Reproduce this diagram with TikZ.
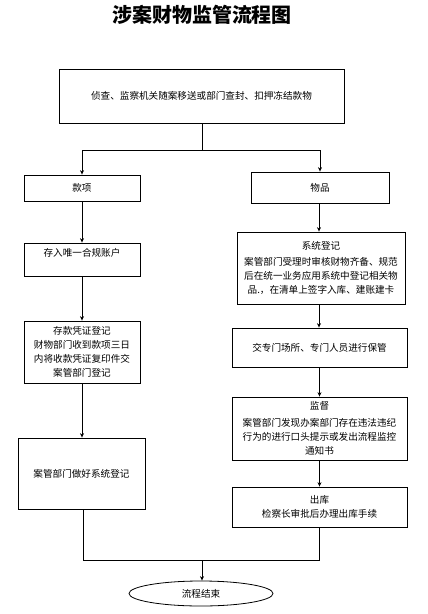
\documentclass[tikz,border=0pt]{standalone}
\usepackage{fontspec}
\setmainfont{Noto Sans CJK SC}
\usetikzlibrary{arrows.meta,shapes.geometric}
\begin{document}
\begin{tikzpicture}[x=1pt,y=-1pt,
  every node/.style={font=\fontsize{9.6}{14}\selectfont, inner sep=0pt},
  box/.style={draw, line width=0.8pt, align=center},
  conn/.style={line width=0.8pt},
  arr/.style={conn, -{Stealth[length=4.5pt,width=4pt]}}]
\useasboundingbox (0,0) rectangle (428,614);
\fill[white] (0,0) rectangle (428,614);

\node (title) at (202,15) {\fontsize{20}{24}\selectfont\bfseries 涉案财物监管流程图};

\node[box, minimum width=285pt, minimum height=54pt] (top) at (201.5,96) {侦查、监察机关随案移送或部门查封、扣押冻结款物};

% left branch
\node[box, minimum width=116pt, minimum height=26pt] (kx) at (82,188) {款项};
\node[box, minimum width=116pt, minimum height=33pt, text depth=15pt] (cr) at (82,259.5) {存入唯一合规账户};
\node[box, minimum width=116pt, minimum height=62pt] (pz) at (82,352) {存款凭证登记\\财物部门收到款项三日\\内将收款凭证复印件交\\案管部门登记};
\node[box, minimum width=127pt, minimum height=71pt] (an) at (81.5,473.5) {案管部门做好系统登记};

% right branch
\node[box, minimum width=138pt, minimum height=31pt] (wp) at (320,187.5) {物品};
\node[box, minimum width=168pt, minimum height=72pt] (xt) at (321,268) {系统登记\\[2pt]案管部门受理时审核财物齐备、规范\\后在统一业务应用系统中登记相关物\\品.，在清单上签字入库、建账建卡};
\node[box, minimum width=175pt, minimum height=39pt] (bg) at (319.5,347.5) {交专门场所、专门人员进行保管};
\node[box, minimum width=175pt, minimum height=63pt] (jd) at (319.5,428.5) {监督\\[3pt]案管部门发现办案部门存在违法违纪\\行为的进行口头提示或发出流程监控\\通知书};
\node[box, minimum width=175pt, minimum height=40pt] (ck) at (319.5,507) {出库\\检察长审批后办理出库手续};

\node[draw, line width=0.8pt, ellipse, minimum width=144pt, minimum height=25pt] (end) at (201,593.5) {流程结束};

\coordinate (j1) at (202,150);
\coordinate (j2) at (202,560);

\draw[conn] (top.south -| j1) -- (j1);
\draw[arr] (j1) -| (kx.north);
\draw[arr] (j1) -| (wp.north);
\draw[arr] (kx) -- (cr);
\draw[arr] (cr) -- (pz);
\draw[arr] (pz) -- (an.north -| pz.south);
\draw[arr] (wp.south -| 319,0) -- (xt.north -| 319,0);
\draw[arr] (xt.south -| 319,0) -- (bg.north -| 319,0);
\draw[arr] (bg) -- (jd);
\draw[arr] (jd) -- (ck);
\draw[conn] (an.south -| 83,0) |- (j2);
\draw[conn] (ck.south -| 319,0) |- (j2);
\draw[arr] (j2) -- (end.north -| j2);
\end{tikzpicture}
\end{document}
